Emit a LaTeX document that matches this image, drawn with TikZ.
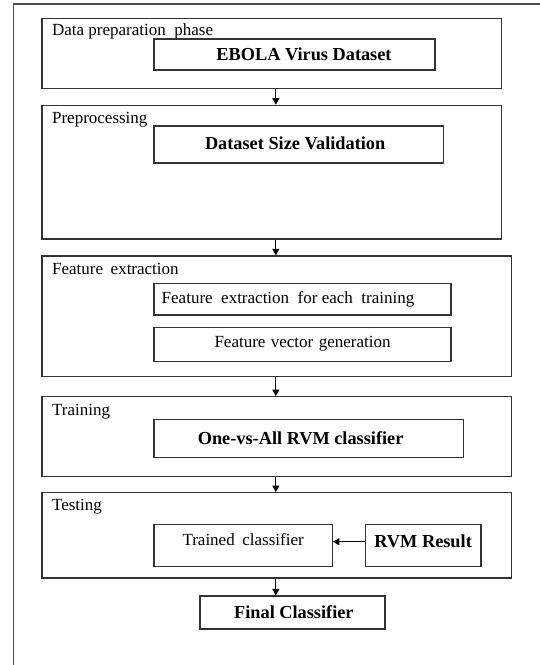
\documentclass[tikz,border=0pt]{standalone}
\usepackage{fontspec}
\setmainfont{Liberation Serif}
\usetikzlibrary{arrows.meta,calc}
\begin{document}
\begin{tikzpicture}[x=1pt,y=-1pt,
  frameline/.style={draw=black!70, line width=1.4pt},
  phase/.style={draw=black!80, line width=1.2pt, inner sep=0pt},
  stepbox/.style={draw=black!80, line width=1.2pt, inner sep=0pt, font=\fontsize{17}{20}\selectfont},
  boldbox/.style={stepbox, font=\fontsize{18.3}{22}\selectfont\bfseries},
  plabel/.style={anchor=base west, inner sep=0pt, font=\fontsize{17}{20}\selectfont},
  arr/.style={draw=black, line width=0.9pt, -{Triangle[length=6.5pt,width=7pt]}}]
\useasboundingbox (0,0) rectangle (540,665);
% outer frame (cut by the page)
\coordinate (ftr) at (540,4);
\coordinate (ftl) at (13.4,4);
\coordinate (fbl) at (13.4,665);
\draw[frameline] (ftr) -- (ftl) -- (fbl);
% phase boxes
\node[phase, minimum width=459.7pt, minimum height=70pt]    (p1) at (271.85,53.3) {};
\node[phase, minimum width=459.7pt, minimum height=133.7pt] (p2) at (271.85,172.15) {};
\node[phase, minimum width=469.7pt, minimum height=120.7pt] (p3) at (276.85,316.35) {};
\node[phase, minimum width=469.7pt, minimum height=80pt]    (p4) at (276.85,436.7) {};
\node[phase, minimum width=469.7pt, minimum height=85.3pt]  (p5) at (276.85,535.35) {};
% phase labels
\node[plabel] (l1) at ($(p1.north west)+(10.5,17.7)$) {Data preparation\hspace{0.5em}phase};
\node[plabel] (l2) at ($(p2.north west)+(10.5,18.7)$) {Preprocessing};
\node[plabel] (l3) at ($(p3.north west)+(10.5,19.3)$) {Feature\hspace{0.45em}extraction};
\node[plabel] (l4) at ($(p4.north west)+(10.5,19.3)$) {Training};
\node[plabel] (l5) at ($(p5.north west)+(10.5,18.5)$) {Testing};
% inner boxes
\node[boldbox, minimum width=281pt, minimum height=31pt] (ebola) at (294.5,54.5) {\hspace*{19pt}EBOLA Virus Dataset};
\node[boldbox, minimum width=289.3pt, minimum height=37pt] (dsv) at (298.65,144.5) {\raisebox{2pt}{Dataset Size Validation}\hspace*{7pt}};
\node[stepbox, minimum width=297pt, minimum height=31.7pt] (fe1) at (302.5,299.15) {\raisebox{3pt}{Feature\hspace{0.5em}extraction\hspace{0.5em}for each\hspace{0.5em}training}\hspace*{29pt}};
\node[stepbox, minimum width=297pt, minimum height=34.4pt] (fe2) at (302.5,344.5) {\spaceskip=5.4pt plus 1pt\raisebox{5pt}{Feature vector generation}};
\node[boldbox, minimum width=309.3pt, minimum height=38.4pt] (ova) at (308.65,438.5) {\raisebox{-6pt}{One-vs-All RVM classifier}\hspace*{16pt}};
\node[stepbox, minimum width=178.3pt, minimum height=42.4pt] (trained) at (243.15,545.5) {\raisebox{12pt}{Trained\hspace{0.45em}classifier}};
\node[boldbox, minimum width=115.7pt, minimum height=42.4pt] (rvm) at (423.15,545.5) {\raisebox{9pt}{RVM Result}};
\node[boldbox, minimum width=185pt, minimum height=33pt] (final) at (292.5,612.5) {\hspace*{2.8pt}Final Classifier};
% connectors
\draw[arr] ([xshift=4pt]p1.south) -- ([xshift=4pt]p2.north);
\draw[arr] ([xshift=4pt]p2.south) -- ([xshift=4pt]p2.south |- p3.north);
\draw[arr] ([xshift=-1pt]p3.south) -- ([xshift=-1pt]p4.north);
\draw[arr] ([xshift=-1pt]p4.south) -- ([xshift=-1pt]p5.north);
\draw[arr] ([xshift=-1pt]p5.south) -- ([xshift=-1pt]p5.south |- final.north);
\draw[arr] ([yshift=3.8pt]rvm.west) -- ([yshift=3.8pt]rvm.west -| trained.east);
\end{tikzpicture}
\end{document}
